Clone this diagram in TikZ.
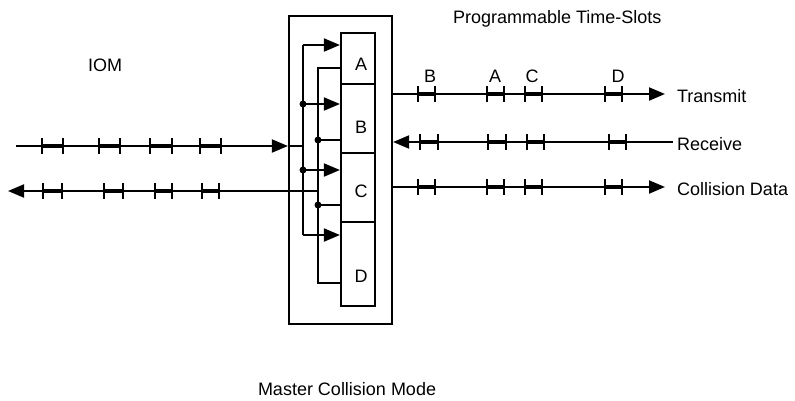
\documentclass[tikz,border=0pt]{standalone}
\usepackage{fontspec}
\setmainfont{Liberation Sans}
\usetikzlibrary{arrows.meta}
\newcommand\tslot[3]{%
  \draw (#1,#3-8) -- (#1,#3+8);
  \draw (#2,#3-8) -- (#2,#3+8);
  \draw[line width=3.4pt] (#1,#3) -- (#2,#3);}
\begin{document}
\begin{tikzpicture}[x=1pt,y=-1pt,
  line width=2pt,
  tip/.style={-{Triangle[length=16pt,width=13pt]}},
  lbl/.style={font=\fontsize{18}{20}\selectfont, inner sep=0pt, anchor=base},
  lblw/.style={font=\fontsize{18}{20}\selectfont, inner sep=0pt, anchor=base west},
  cell/.style={draw, line width=2.2pt, minimum width=34pt, inner sep=0pt},
  dotc/.style={circle, fill, inner sep=0pt, minimum size=7pt}
]
\useasboundingbox (0,0) rectangle (795,400);

% outer box and cells
\node[draw, line width=2.2pt, minimum width=103pt, minimum height=308pt, inner sep=0pt] (outer) at (340.5,170) {};
\node[cell, minimum height=51pt] (A) at (358,58.5) {};
\node[cell, minimum height=69pt] (B) at (358,118.5) {};
\node[cell, minimum height=69pt] (C) at (358,187.5) {};
\node[cell, minimum height=84pt] (D) at (358,264) {};
\node[lbl] (lA) at (361,70) {A};
\node[lbl] (lB) at (361,133) {B};
\node[lbl] (lC) at (361,197) {C};
\node[lbl] (lD) at (361,282) {D};

% input distribution bus
\coordinate (b1a) at (303,45);
\coordinate (b1b) at (303,104);
\coordinate (b1c) at (303,170);
\coordinate (b1d) at (303,235);
\coordinate (b1in) at (303,146);
\draw (b1a) -- (b1d);
\draw[tip] (b1a) -- (b1a -| A.west);
\draw[tip] (b1b) -- (b1b -| B.west);
\draw[tip] (b1c) -- (b1c -| C.west);
\draw[tip] (b1d) -- (b1d -| D.west);
\node[dotc] (d1b) at (b1b) {};
\node[dotc] (d1c) at (b1c) {};

% output collection bus
\coordinate (b2a) at (318,68);
\coordinate (b2b) at (318,140);
\coordinate (b2c) at (318,205);
\coordinate (b2d) at (318,283);
\coordinate (b2out) at (318,191);
\draw (b2a -| A.west) -- (b2a) -- (b2d) -- (b2d -| D.west);
\draw (b2b) -- (b2b -| B.west);
\draw (b2c) -- (b2c -| C.west);
\node[dotc] (d2b) at (b2b) {};
\node[dotc] (d2c) at (b2c) {};

% IOM side
\coordinate (inL) at (16,146);
\coordinate (outL) at (8,191);
\draw[tip] (inL) -- (inL -| outer.west);
\draw (inL -| outer.west) -- (b1in);
\draw[tip] (b2out) -- (outL);
\foreach \a/\b in {42/63, 99/120, 150/172, 200/221} {\tslot{\a}{\b}{146}}
\foreach \a/\b in {43/62, 104/123, 155/172, 202/219} {\tslot{\a}{\b}{191}}

% right side
\coordinate (tx) at (665,94);
\coordinate (rx) at (673,142);
\coordinate (cd) at (665,187);
\draw[tip] (tx -| outer.east) -- (tx);
\draw[tip] (rx) -- (rx -| outer.east);
\draw[tip] (cd -| outer.east) -- (cd);
\foreach \a/\b in {418/435, 487/504, 525/542, 605/622} {\tslot{\a}{\b}{94}}
\foreach \a/\b in {420/438, 488/506, 527/544, 609/626} {\tslot{\a}{\b}{142}}
\foreach \a/\b in {418/435, 487/504, 525/542, 605/622} {\tslot{\a}{\b}{187}}

% labels
\node[lbl] (sB) at (430,82) {B};
\node[lbl] (sA) at (495,82) {A};
\node[lbl] (sC) at (532,82) {C};
\node[lbl] (sD) at (618,82) {D};
\node[lblw] (ttx) at (676,102.5) {Transmit};
\node[lblw] (trx) at (676,150) {Receive};
\node[lblw] (tcd) at (676,195) {Collision Data};
\node[lblw] (title) at (452,23) {Programmable Time-Slots};
\node[lblw] (iom) at (87,71) {IOM};
\node[lblw] (mode) at (257,395) {Master Collision Mode};
\end{tikzpicture}
\end{document}
